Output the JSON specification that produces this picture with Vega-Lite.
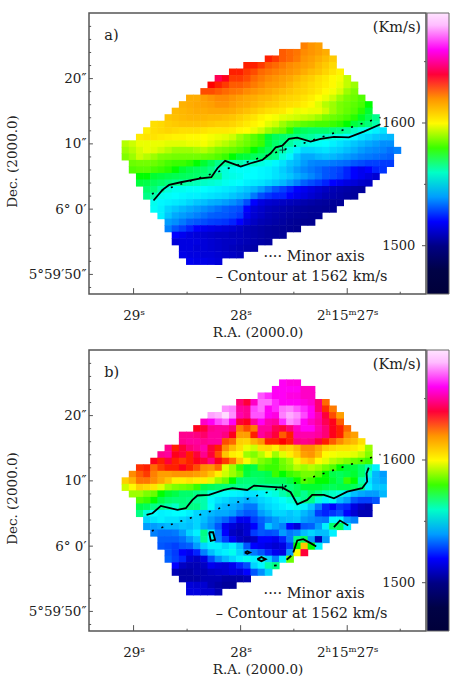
{"$schema":"https://vega.github.io/schema/vega-lite/v6.json","background":"white","padding":{"left":4,"top":12,"right":0,"bottom":0},"config":{"font":"DejaVu Serif","axis":{"labelFont":"DejaVu Serif","titleFont":"DejaVu Serif","labelColor":"#222","titleColor":"#222","labelFontSize":13.5,"titleFontSize":13.5,"titleFontWeight":"normal","grid":false,"domain":false,"ticks":false},"text":{"font":"DejaVu Serif","fontSize":14.5,"color":"#222"}},"bounds":"flush","spacing":56,"resolve":{"scale":{"color":"independent"}},
"datasets":{
"ticks":[{"c":-5.1,"c2":-4.55,"r":5,"r2":5},{"c":-5.1,"c2":-4.55,"r":15,"r2":15},{"c":-5.1,"c2":-4.55,"r":25,"r2":25},{"c":-5.1,"c2":-4.55,"r":35,"r2":35},{"c":-5.1,"c2":-4.8,"r":-3,"r2":-3},{"c":-5.1,"c2":-4.8,"r":-1,"r2":-1},{"c":-5.1,"c2":-4.8,"r":1,"r2":1},{"c":-5.1,"c2":-4.8,"r":3,"r2":3},{"c":-5.1,"c2":-4.8,"r":7,"r2":7},{"c":-5.1,"c2":-4.8,"r":9,"r2":9},{"c":-5.1,"c2":-4.8,"r":11,"r2":11},{"c":-5.1,"c2":-4.8,"r":13,"r2":13},{"c":-5.1,"c2":-4.8,"r":17,"r2":17},{"c":-5.1,"c2":-4.8,"r":19,"r2":19},{"c":-5.1,"c2":-4.8,"r":21,"r2":21},{"c":-5.1,"c2":-4.8,"r":23,"r2":23},{"c":-5.1,"c2":-4.8,"r":27,"r2":27},{"c":-5.1,"c2":-4.8,"r":29,"r2":29},{"c":-5.1,"c2":-4.8,"r":31,"r2":31},{"c":-5.1,"c2":-4.8,"r":33,"r2":33},{"c":-5.1,"c2":-4.8,"r":37,"r2":37},{"c":1.13,"c2":1.13,"r":38,"r2":37.1},{"c":16.09,"c2":16.09,"r":38,"r2":37.1},{"c":30.99,"c2":30.99,"r":38,"r2":37.1},{"c":8.61,"c2":8.61,"r":38,"r2":37.65},{"c":23.53,"c2":23.53,"r":38,"r2":37.65},{"c":38.4,"c2":38.4,"r":38,"r2":37.65},{"c":41.44,"c2":42,"r":11.8,"r2":11.8},{"c":41.44,"c2":42,"r":30.6,"r2":30.6},{"c":41.72,"c2":42,"r":2.4,"r2":2.4},{"c":41.72,"c2":42,"r":21.2,"r2":21.2}],
"axis":[{"c":3.69,"r":22.66},{"c":35.64,"r":10.95}],
"cross":[{"c":21.95,"r":15.95}],
"unit":[{"c":41.3,"r":-2.75,"t":"(Km/s)"}],
"cbar":[{"c":40.5,"r":11.8,"t":"1600"},{"c":40.5,"r":30.6,"t":"1500"}],
"notes":[{"c":19.3,"r":32.3,"t":"···· Minor axis"},{"c":12.6,"r":35.4,"t":"– Contour at 1562 km/s"}],
"contourA":[{"c":3.92,"r":23.68,"i":1},{"c":5.17,"r":22.05,"i":2},{"c":6.1,"r":21.29,"i":3},{"c":7.73,"r":20.88,"i":4},{"c":10.52,"r":20.27,"i":5},{"c":12,"r":20.11,"i":6},{"c":12.85,"r":18.73,"i":7},{"c":13.92,"r":17.61,"i":8},{"c":16.1,"r":18.48,"i":9},{"c":17.5,"r":17.97,"i":10},{"c":19.13,"r":17.46,"i":11},{"c":20.29,"r":16.44,"i":12},{"c":21,"r":15.52,"i":13},{"c":21.92,"r":15.27,"i":14},{"c":22.85,"r":14.24,"i":15},{"c":24,"r":14.04,"i":16},{"c":25.87,"r":14.65,"i":17},{"c":27.27,"r":14.24,"i":18},{"c":29.13,"r":13.94,"i":19},{"c":31.22,"r":13.99,"i":20},{"c":33.3,"r":13.12,"i":21},{"c":35.64,"r":12,"i":22}],
"contourB":[{"g":1,"i":1,"c":2.94,"r":20.2},{"g":1,"i":2,"c":3.78,"r":19.96},{"g":1,"i":3,"c":4.94,"r":18.84},{"g":1,"i":4,"c":7.27,"r":19.45},{"g":1,"i":5,"c":8.43,"r":19.19},{"g":1,"i":6,"c":9.36,"r":17.91},{"g":1,"i":7,"c":10.06,"r":17.24},{"g":1,"i":8,"c":11.69,"r":17.14},{"g":1,"i":9,"c":13.78,"r":16.37},{"g":1,"i":10,"c":14.94,"r":16.11},{"g":1,"i":11,"c":17.03,"r":16.39},{"g":1,"i":12,"c":17.97,"r":15.72},{"g":1,"i":13,"c":19.83,"r":15.88},{"g":1,"i":14,"c":21.92,"r":16.03},{"g":1,"i":15,"c":23.08,"r":16.74},{"g":1,"i":16,"c":24.01,"r":18.58},{"g":1,"i":17,"c":25.4,"r":17.92},{"g":1,"i":18,"c":26.1,"r":17.15},{"g":1,"i":19,"c":27.73,"r":17.15},{"g":1,"i":20,"c":29.13,"r":17.66},{"g":1,"i":21,"c":30.99,"r":16.64},{"g":1,"i":22,"c":33.08,"r":16.13},{"g":1,"i":23,"c":33.78,"r":15.11},{"g":1,"i":24,"c":33.69,"r":13.84},{"g":1,"i":25,"c":34,"r":12.97},{"g":2,"i":1,"c":29.13,"r":22.1},{"g":2,"i":2,"c":29.97,"r":21.08},{"g":2,"i":3,"c":31.13,"r":21.85},{"g":3,"i":1,"c":11.69,"r":22.87},{"g":3,"i":2,"c":12.24,"r":22.87},{"g":3,"i":3,"c":12.52,"r":24.04},{"g":3,"i":4,"c":11.92,"r":24.19},{"g":3,"i":5,"c":11.69,"r":22.87},{"g":4,"i":1,"c":16.66,"r":25.97},{"g":4,"i":2,"c":17.03,"r":25.78},{"g":4,"i":3,"c":17.41,"r":25.97},{"g":4,"i":4,"c":17.03,"r":26.18},{"g":4,"i":5,"c":16.66,"r":25.97},{"g":5,"i":1,"c":18.43,"r":26.99},{"g":5,"i":2,"c":19,"r":26.68},{"g":5,"i":3,"c":19.59,"r":26.99},{"g":5,"i":4,"c":19,"r":27.3},{"g":5,"i":5,"c":18.43,"r":26.99},{"g":6,"i":1,"c":20.76,"r":27.99},{"g":6,"i":2,"c":21.13,"r":27.94},{"g":7,"i":1,"c":22.52,"r":27.09},{"g":7,"i":2,"c":23.17,"r":26.48},{"g":8,"i":1,"c":23.45,"r":25.97},{"g":8,"i":2,"c":24.01,"r":24.13},{"g":8,"i":3,"c":24.85,"r":23.93},{"g":8,"i":4,"c":25.87,"r":24.54},{"g":8,"i":5,"c":26.66,"r":25.05}],
"velA":[
{"c":25,"r":0,"v":1624},{"c":26,"r":0,"v":1620},{"c":27,"r":0,"v":1618},
{"c":22,"r":1,"v":1630},{"c":23,"r":1,"v":1628},{"c":24,"r":1,"v":1626},{"c":25,"r":1,"v":1622},{"c":26,"r":1,"v":1620},{"c":27,"r":1,"v":1618},{"c":28,"r":1,"v":1615},
{"c":20,"r":2,"v":1636},{"c":21,"r":2,"v":1634},{"c":22,"r":2,"v":1630},{"c":23,"r":2,"v":1628},{"c":24,"r":2,"v":1625},{"c":25,"r":2,"v":1620},{"c":26,"r":2,"v":1618},{"c":27,"r":2,"v":1615},{"c":28,"r":2,"v":1612},{"c":29,"r":2,"v":1609},
{"c":17,"r":3,"v":1636},{"c":18,"r":3,"v":1636},{"c":19,"r":3,"v":1634},{"c":20,"r":3,"v":1630},{"c":21,"r":3,"v":1628},{"c":22,"r":3,"v":1625},{"c":23,"r":3,"v":1622},{"c":24,"r":3,"v":1620},{"c":25,"r":3,"v":1618},{"c":26,"r":3,"v":1616},{"c":27,"r":3,"v":1612},{"c":28,"r":3,"v":1609},{"c":29,"r":3,"v":1606},
{"c":15,"r":4,"v":1636},{"c":16,"r":4,"v":1636},{"c":17,"r":4,"v":1634},{"c":18,"r":4,"v":1632},{"c":19,"r":4,"v":1628},{"c":20,"r":4,"v":1626},{"c":21,"r":4,"v":1624},{"c":22,"r":4,"v":1622},{"c":23,"r":4,"v":1620},{"c":24,"r":4,"v":1618},{"c":25,"r":4,"v":1615},{"c":26,"r":4,"v":1612},{"c":27,"r":4,"v":1610},{"c":28,"r":4,"v":1607},{"c":29,"r":4,"v":1604},{"c":30,"r":4,"v":1601},
{"c":13,"r":5,"v":1642},{"c":14,"r":5,"v":1638},{"c":15,"r":5,"v":1634},{"c":16,"r":5,"v":1634},{"c":17,"r":5,"v":1632},{"c":18,"r":5,"v":1628},{"c":19,"r":5,"v":1625},{"c":20,"r":5,"v":1622},{"c":21,"r":5,"v":1620},{"c":22,"r":5,"v":1618},{"c":23,"r":5,"v":1616},{"c":24,"r":5,"v":1613},{"c":25,"r":5,"v":1610},{"c":26,"r":5,"v":1608},{"c":27,"r":5,"v":1605},{"c":28,"r":5,"v":1603},{"c":29,"r":5,"v":1600},{"c":30,"r":5,"v":1598},{"c":31,"r":5,"v":1593},
{"c":12,"r":6,"v":1637},{"c":13,"r":6,"v":1636},{"c":14,"r":6,"v":1634},{"c":15,"r":6,"v":1630},{"c":16,"r":6,"v":1630},{"c":17,"r":6,"v":1628},{"c":18,"r":6,"v":1625},{"c":19,"r":6,"v":1622},{"c":20,"r":6,"v":1619},{"c":21,"r":6,"v":1618},{"c":22,"r":6,"v":1616},{"c":23,"r":6,"v":1613},{"c":24,"r":6,"v":1610},{"c":25,"r":6,"v":1608},{"c":26,"r":6,"v":1606},{"c":27,"r":6,"v":1604},{"c":28,"r":6,"v":1602},{"c":29,"r":6,"v":1600},{"c":30,"r":6,"v":1597},{"c":31,"r":6,"v":1593},{"c":32,"r":6,"v":1590},
{"c":11,"r":7,"v":1632},{"c":12,"r":7,"v":1632},{"c":13,"r":7,"v":1630},{"c":14,"r":7,"v":1628},{"c":15,"r":7,"v":1626},{"c":16,"r":7,"v":1625},{"c":17,"r":7,"v":1622},{"c":18,"r":7,"v":1620},{"c":19,"r":7,"v":1618},{"c":20,"r":7,"v":1616},{"c":21,"r":7,"v":1614},{"c":22,"r":7,"v":1612},{"c":23,"r":7,"v":1610},{"c":24,"r":7,"v":1608},{"c":25,"r":7,"v":1607},{"c":26,"r":7,"v":1605},{"c":27,"r":7,"v":1603},{"c":28,"r":7,"v":1600},{"c":29,"r":7,"v":1598},{"c":30,"r":7,"v":1595},{"c":31,"r":7,"v":1590},{"c":32,"r":7,"v":1587},
{"c":9,"r":8,"v":1615},{"c":10,"r":8,"v":1615},{"c":11,"r":8,"v":1618},{"c":12,"r":8,"v":1620},{"c":13,"r":8,"v":1622},{"c":14,"r":8,"v":1622},{"c":15,"r":8,"v":1620},{"c":16,"r":8,"v":1618},{"c":17,"r":8,"v":1616},{"c":18,"r":8,"v":1615},{"c":19,"r":8,"v":1613},{"c":20,"r":8,"v":1612},{"c":21,"r":8,"v":1610},{"c":22,"r":8,"v":1608},{"c":23,"r":8,"v":1607},{"c":24,"r":8,"v":1606},{"c":25,"r":8,"v":1604},{"c":26,"r":8,"v":1602},{"c":27,"r":8,"v":1599},{"c":28,"r":8,"v":1597},{"c":29,"r":8,"v":1594},{"c":30,"r":8,"v":1590},{"c":31,"r":8,"v":1587},{"c":32,"r":8,"v":1585},{"c":33,"r":8,"v":1582},
{"c":8,"r":9,"v":1614},{"c":9,"r":9,"v":1615},{"c":10,"r":9,"v":1616},{"c":11,"r":9,"v":1617},{"c":12,"r":9,"v":1618},{"c":13,"r":9,"v":1620},{"c":14,"r":9,"v":1620},{"c":15,"r":9,"v":1618},{"c":16,"r":9,"v":1616},{"c":17,"r":9,"v":1615},{"c":18,"r":9,"v":1613},{"c":19,"r":9,"v":1611},{"c":20,"r":9,"v":1609},{"c":21,"r":9,"v":1608},{"c":22,"r":9,"v":1606},{"c":23,"r":9,"v":1605},{"c":24,"r":9,"v":1604},{"c":25,"r":9,"v":1602},{"c":26,"r":9,"v":1600},{"c":27,"r":9,"v":1596},{"c":28,"r":9,"v":1592},{"c":29,"r":9,"v":1590},{"c":30,"r":9,"v":1587},{"c":31,"r":9,"v":1585},{"c":32,"r":9,"v":1583},{"c":33,"r":9,"v":1581},{"c":34,"r":9,"v":1578},
{"c":7,"r":10,"v":1612},{"c":8,"r":10,"v":1613},{"c":9,"r":10,"v":1614},{"c":10,"r":10,"v":1615},{"c":11,"r":10,"v":1615},{"c":12,"r":10,"v":1616},{"c":13,"r":10,"v":1616},{"c":14,"r":10,"v":1616},{"c":15,"r":10,"v":1615},{"c":16,"r":10,"v":1613},{"c":17,"r":10,"v":1611},{"c":18,"r":10,"v":1609},{"c":19,"r":10,"v":1607},{"c":20,"r":10,"v":1605},{"c":21,"r":10,"v":1604},{"c":22,"r":10,"v":1603},{"c":23,"r":10,"v":1600},{"c":24,"r":10,"v":1597},{"c":25,"r":10,"v":1598},{"c":26,"r":10,"v":1597},{"c":27,"r":10,"v":1597},{"c":28,"r":10,"v":1594},{"c":29,"r":10,"v":1590},{"c":30,"r":10,"v":1587},{"c":31,"r":10,"v":1584},{"c":32,"r":10,"v":1582},{"c":33,"r":10,"v":1579},{"c":34,"r":10,"v":1576},
{"c":6,"r":11,"v":1610},{"c":7,"r":11,"v":1611},{"c":8,"r":11,"v":1612},{"c":9,"r":11,"v":1613},{"c":10,"r":11,"v":1613},{"c":11,"r":11,"v":1613},{"c":12,"r":11,"v":1612},{"c":13,"r":11,"v":1612},{"c":14,"r":11,"v":1611},{"c":15,"r":11,"v":1610},{"c":16,"r":11,"v":1608},{"c":17,"r":11,"v":1606},{"c":18,"r":11,"v":1604},{"c":19,"r":11,"v":1601},{"c":20,"r":11,"v":1599},{"c":21,"r":11,"v":1598},{"c":22,"r":11,"v":1596},{"c":23,"r":11,"v":1595},{"c":24,"r":11,"v":1594},{"c":25,"r":11,"v":1593},{"c":26,"r":11,"v":1592},{"c":27,"r":11,"v":1590},{"c":28,"r":11,"v":1587},{"c":29,"r":11,"v":1585},{"c":30,"r":11,"v":1583},{"c":31,"r":11,"v":1581},{"c":32,"r":11,"v":1579},{"c":33,"r":11,"v":1577},{"c":34,"r":11,"v":1573},{"c":35,"r":11,"v":1565},
{"c":4,"r":12,"v":1605},{"c":5,"r":12,"v":1606},{"c":6,"r":12,"v":1608},{"c":7,"r":12,"v":1609},{"c":8,"r":12,"v":1610},{"c":9,"r":12,"v":1610},{"c":10,"r":12,"v":1610},{"c":11,"r":12,"v":1610},{"c":12,"r":12,"v":1609},{"c":13,"r":12,"v":1608},{"c":14,"r":12,"v":1608},{"c":15,"r":12,"v":1607},{"c":16,"r":12,"v":1605},{"c":17,"r":12,"v":1603},{"c":18,"r":12,"v":1601},{"c":19,"r":12,"v":1599},{"c":20,"r":12,"v":1596},{"c":21,"r":12,"v":1594},{"c":22,"r":12,"v":1590},{"c":23,"r":12,"v":1587},{"c":24,"r":12,"v":1585},{"c":25,"r":12,"v":1583},{"c":26,"r":12,"v":1582},{"c":27,"r":12,"v":1581},{"c":28,"r":12,"v":1581},{"c":29,"r":12,"v":1580},{"c":30,"r":12,"v":1579},{"c":31,"r":12,"v":1578},{"c":32,"r":12,"v":1575},{"c":33,"r":12,"v":1572},{"c":34,"r":12,"v":1568},{"c":35,"r":12,"v":1562},
{"c":3,"r":13,"v":1602},{"c":4,"r":13,"v":1605},{"c":5,"r":13,"v":1606},{"c":6,"r":13,"v":1607},{"c":7,"r":13,"v":1606},{"c":8,"r":13,"v":1605},{"c":9,"r":13,"v":1605},{"c":10,"r":13,"v":1605},{"c":11,"r":13,"v":1604},{"c":12,"r":13,"v":1603},{"c":13,"r":13,"v":1603},{"c":14,"r":13,"v":1603},{"c":15,"r":13,"v":1602},{"c":16,"r":13,"v":1600},{"c":17,"r":13,"v":1599},{"c":18,"r":13,"v":1597},{"c":19,"r":13,"v":1594},{"c":20,"r":13,"v":1590},{"c":21,"r":13,"v":1587},{"c":22,"r":13,"v":1584},{"c":23,"r":13,"v":1579},{"c":24,"r":13,"v":1574},{"c":25,"r":13,"v":1572},{"c":26,"r":13,"v":1570},{"c":27,"r":13,"v":1570},{"c":28,"r":13,"v":1570},{"c":29,"r":13,"v":1568},{"c":30,"r":13,"v":1566},{"c":31,"r":13,"v":1563},{"c":32,"r":13,"v":1560},{"c":33,"r":13,"v":1557},{"c":34,"r":13,"v":1555},{"c":35,"r":13,"v":1552},{"c":36,"r":13,"v":1550},
{"c":2,"r":14,"v":1603},{"c":3,"r":14,"v":1604},{"c":4,"r":14,"v":1604},{"c":5,"r":14,"v":1603},{"c":6,"r":14,"v":1602},{"c":7,"r":14,"v":1601},{"c":8,"r":14,"v":1601},{"c":9,"r":14,"v":1600},{"c":10,"r":14,"v":1600},{"c":11,"r":14,"v":1599},{"c":12,"r":14,"v":1598},{"c":13,"r":14,"v":1597},{"c":14,"r":14,"v":1596},{"c":15,"r":14,"v":1594},{"c":16,"r":14,"v":1590},{"c":17,"r":14,"v":1587},{"c":18,"r":14,"v":1583},{"c":19,"r":14,"v":1580},{"c":20,"r":14,"v":1576},{"c":21,"r":14,"v":1572},{"c":22,"r":14,"v":1570},{"c":23,"r":14,"v":1568},{"c":24,"r":14,"v":1566},{"c":25,"r":14,"v":1564},{"c":26,"r":14,"v":1563},{"c":27,"r":14,"v":1561},{"c":28,"r":14,"v":1560},{"c":29,"r":14,"v":1558},{"c":30,"r":14,"v":1557},{"c":31,"r":14,"v":1555},{"c":32,"r":14,"v":1553},{"c":33,"r":14,"v":1550},{"c":34,"r":14,"v":1548},{"c":35,"r":14,"v":1546},{"c":36,"r":14,"v":1545},{"c":37,"r":14,"v":1544},
{"c":0,"r":15,"v":1592},{"c":1,"r":15,"v":1594},{"c":2,"r":15,"v":1597},{"c":3,"r":15,"v":1597},{"c":4,"r":15,"v":1597},{"c":5,"r":15,"v":1597},{"c":6,"r":15,"v":1596},{"c":7,"r":15,"v":1596},{"c":8,"r":15,"v":1596},{"c":9,"r":15,"v":1597},{"c":10,"r":15,"v":1597},{"c":11,"r":15,"v":1598},{"c":12,"r":15,"v":1596},{"c":13,"r":15,"v":1594},{"c":14,"r":15,"v":1592},{"c":15,"r":15,"v":1590},{"c":16,"r":15,"v":1588},{"c":17,"r":15,"v":1585},{"c":18,"r":15,"v":1582},{"c":19,"r":15,"v":1580},{"c":20,"r":15,"v":1575},{"c":21,"r":15,"v":1570},{"c":22,"r":15,"v":1566},{"c":23,"r":15,"v":1563},{"c":24,"r":15,"v":1560},{"c":25,"r":15,"v":1558},{"c":26,"r":15,"v":1556},{"c":27,"r":15,"v":1555},{"c":28,"r":15,"v":1554},{"c":29,"r":15,"v":1552},{"c":30,"r":15,"v":1550},{"c":31,"r":15,"v":1548},{"c":32,"r":15,"v":1546},{"c":33,"r":15,"v":1544},{"c":34,"r":15,"v":1542},{"c":35,"r":15,"v":1540},{"c":36,"r":15,"v":1538},{"c":37,"r":15,"v":1538},
{"c":0,"r":16,"v":1590},{"c":1,"r":16,"v":1592},{"c":2,"r":16,"v":1595},{"c":3,"r":16,"v":1597},{"c":4,"r":16,"v":1596},{"c":5,"r":16,"v":1594},{"c":6,"r":16,"v":1592},{"c":7,"r":16,"v":1590},{"c":8,"r":16,"v":1590},{"c":9,"r":16,"v":1590},{"c":10,"r":16,"v":1591},{"c":11,"r":16,"v":1592},{"c":12,"r":16,"v":1590},{"c":13,"r":16,"v":1588},{"c":14,"r":16,"v":1586},{"c":15,"r":16,"v":1584},{"c":16,"r":16,"v":1582},{"c":17,"r":16,"v":1580},{"c":18,"r":16,"v":1578},{"c":19,"r":16,"v":1576},{"c":20,"r":16,"v":1572},{"c":21,"r":16,"v":1568},{"c":22,"r":16,"v":1562},{"c":23,"r":16,"v":1558},{"c":24,"r":16,"v":1552},{"c":25,"r":16,"v":1548},{"c":26,"r":16,"v":1548},{"c":27,"r":16,"v":1549},{"c":28,"r":16,"v":1550},{"c":29,"r":16,"v":1548},{"c":30,"r":16,"v":1547},{"c":31,"r":16,"v":1545},{"c":32,"r":16,"v":1543},{"c":33,"r":16,"v":1540},{"c":34,"r":16,"v":1538},{"c":35,"r":16,"v":1537},{"c":36,"r":16,"v":1536},{"c":37,"r":16,"v":1534},{"c":38,"r":16,"v":1536},
{"c":0,"r":17,"v":1588},{"c":1,"r":17,"v":1590},{"c":2,"r":17,"v":1594},{"c":3,"r":17,"v":1592},{"c":4,"r":17,"v":1590},{"c":5,"r":17,"v":1588},{"c":6,"r":17,"v":1587},{"c":7,"r":17,"v":1586},{"c":8,"r":17,"v":1586},{"c":9,"r":17,"v":1586},{"c":10,"r":17,"v":1586},{"c":11,"r":17,"v":1585},{"c":12,"r":17,"v":1584},{"c":13,"r":17,"v":1582},{"c":14,"r":17,"v":1580},{"c":15,"r":17,"v":1578},{"c":16,"r":17,"v":1576},{"c":17,"r":17,"v":1575},{"c":18,"r":17,"v":1572},{"c":19,"r":17,"v":1570},{"c":20,"r":17,"v":1568},{"c":21,"r":17,"v":1565},{"c":22,"r":17,"v":1558},{"c":23,"r":17,"v":1553},{"c":24,"r":17,"v":1546},{"c":25,"r":17,"v":1542},{"c":26,"r":17,"v":1542},{"c":27,"r":17,"v":1544},{"c":28,"r":17,"v":1545},{"c":29,"r":17,"v":1544},{"c":30,"r":17,"v":1542},{"c":31,"r":17,"v":1540},{"c":32,"r":17,"v":1538},{"c":33,"r":17,"v":1536},{"c":34,"r":17,"v":1535},{"c":35,"r":17,"v":1534},{"c":36,"r":17,"v":1533},{"c":37,"r":17,"v":1532},
{"c":1,"r":18,"v":1585},{"c":2,"r":18,"v":1586},{"c":3,"r":18,"v":1586},{"c":4,"r":18,"v":1585},{"c":5,"r":18,"v":1583},{"c":6,"r":18,"v":1581},{"c":7,"r":18,"v":1580},{"c":8,"r":18,"v":1580},{"c":9,"r":18,"v":1579},{"c":10,"r":18,"v":1578},{"c":11,"r":18,"v":1576},{"c":12,"r":18,"v":1572},{"c":13,"r":18,"v":1565},{"c":14,"r":18,"v":1563},{"c":15,"r":18,"v":1562},{"c":16,"r":18,"v":1562},{"c":17,"r":18,"v":1560},{"c":18,"r":18,"v":1560},{"c":19,"r":18,"v":1558},{"c":20,"r":18,"v":1556},{"c":21,"r":18,"v":1553},{"c":22,"r":18,"v":1550},{"c":23,"r":18,"v":1546},{"c":24,"r":18,"v":1544},{"c":25,"r":18,"v":1540},{"c":26,"r":18,"v":1537},{"c":27,"r":18,"v":1536},{"c":28,"r":18,"v":1536},{"c":29,"r":18,"v":1535},{"c":30,"r":18,"v":1534},{"c":31,"r":18,"v":1533},{"c":32,"r":18,"v":1530},{"c":33,"r":18,"v":1528},{"c":34,"r":18,"v":1526},{"c":35,"r":18,"v":1526},{"c":36,"r":18,"v":1525},{"c":37,"r":18,"v":1525},
{"c":1,"r":19,"v":1582},{"c":2,"r":19,"v":1583},{"c":3,"r":19,"v":1583},{"c":4,"r":19,"v":1581},{"c":5,"r":19,"v":1580},{"c":6,"r":19,"v":1579},{"c":7,"r":19,"v":1578},{"c":8,"r":19,"v":1576},{"c":9,"r":19,"v":1574},{"c":10,"r":19,"v":1572},{"c":11,"r":19,"v":1570},{"c":12,"r":19,"v":1566},{"c":13,"r":19,"v":1560},{"c":14,"r":19,"v":1558},{"c":15,"r":19,"v":1556},{"c":16,"r":19,"v":1555},{"c":17,"r":19,"v":1555},{"c":18,"r":19,"v":1554},{"c":19,"r":19,"v":1553},{"c":20,"r":19,"v":1552},{"c":21,"r":19,"v":1550},{"c":22,"r":19,"v":1547},{"c":23,"r":19,"v":1544},{"c":24,"r":19,"v":1540},{"c":25,"r":19,"v":1537},{"c":26,"r":19,"v":1535},{"c":27,"r":19,"v":1533},{"c":28,"r":19,"v":1530},{"c":29,"r":19,"v":1528},{"c":30,"r":19,"v":1526},{"c":31,"r":19,"v":1522},{"c":32,"r":19,"v":1520},{"c":33,"r":19,"v":1518},{"c":34,"r":19,"v":1520},{"c":35,"r":19,"v":1522},{"c":36,"r":19,"v":1524},
{"c":2,"r":20,"v":1578},{"c":3,"r":20,"v":1578},{"c":4,"r":20,"v":1576},{"c":5,"r":20,"v":1575},{"c":6,"r":20,"v":1574},{"c":7,"r":20,"v":1573},{"c":8,"r":20,"v":1572},{"c":9,"r":20,"v":1571},{"c":10,"r":20,"v":1570},{"c":11,"r":20,"v":1568},{"c":12,"r":20,"v":1566},{"c":13,"r":20,"v":1564},{"c":14,"r":20,"v":1558},{"c":15,"r":20,"v":1557},{"c":16,"r":20,"v":1556},{"c":17,"r":20,"v":1554},{"c":18,"r":20,"v":1554},{"c":19,"r":20,"v":1553},{"c":20,"r":20,"v":1552},{"c":21,"r":20,"v":1550},{"c":22,"r":20,"v":1548},{"c":23,"r":20,"v":1546},{"c":24,"r":20,"v":1543},{"c":25,"r":20,"v":1540},{"c":26,"r":20,"v":1537},{"c":27,"r":20,"v":1534},{"c":28,"r":20,"v":1530},{"c":29,"r":20,"v":1528},{"c":30,"r":20,"v":1525},{"c":31,"r":20,"v":1522},{"c":32,"r":20,"v":1520},{"c":33,"r":20,"v":1518},{"c":34,"r":20,"v":1516},{"c":35,"r":20,"v":1514},
{"c":2,"r":21,"v":1575},{"c":3,"r":21,"v":1574},{"c":4,"r":21,"v":1572},{"c":5,"r":21,"v":1570},{"c":6,"r":21,"v":1567},{"c":7,"r":21,"v":1564},{"c":8,"r":21,"v":1563},{"c":9,"r":21,"v":1562},{"c":10,"r":21,"v":1561},{"c":11,"r":21,"v":1560},{"c":12,"r":21,"v":1559},{"c":13,"r":21,"v":1558},{"c":14,"r":21,"v":1556},{"c":15,"r":21,"v":1555},{"c":16,"r":21,"v":1554},{"c":17,"r":21,"v":1552},{"c":18,"r":21,"v":1551},{"c":19,"r":21,"v":1550},{"c":20,"r":21,"v":1548},{"c":21,"r":21,"v":1546},{"c":22,"r":21,"v":1544},{"c":23,"r":21,"v":1540},{"c":24,"r":21,"v":1536},{"c":25,"r":21,"v":1532},{"c":26,"r":21,"v":1528},{"c":27,"r":21,"v":1525},{"c":28,"r":21,"v":1522},{"c":29,"r":21,"v":1520},{"c":30,"r":21,"v":1518},{"c":31,"r":21,"v":1516},{"c":32,"r":21,"v":1515},{"c":33,"r":21,"v":1513},{"c":34,"r":21,"v":1512},
{"c":3,"r":22,"v":1570},{"c":4,"r":22,"v":1568},{"c":5,"r":22,"v":1562},{"c":6,"r":22,"v":1558},{"c":7,"r":22,"v":1556},{"c":8,"r":22,"v":1556},{"c":9,"r":22,"v":1555},{"c":10,"r":22,"v":1555},{"c":11,"r":22,"v":1554},{"c":12,"r":22,"v":1553},{"c":13,"r":22,"v":1552},{"c":14,"r":22,"v":1551},{"c":15,"r":22,"v":1550},{"c":16,"r":22,"v":1548},{"c":17,"r":22,"v":1546},{"c":18,"r":22,"v":1544},{"c":19,"r":22,"v":1540},{"c":20,"r":22,"v":1535},{"c":21,"r":22,"v":1530},{"c":22,"r":22,"v":1526},{"c":23,"r":22,"v":1522},{"c":24,"r":22,"v":1520},{"c":25,"r":22,"v":1518},{"c":26,"r":22,"v":1516},{"c":27,"r":22,"v":1514},{"c":28,"r":22,"v":1512},{"c":29,"r":22,"v":1510},{"c":30,"r":22,"v":1509},{"c":31,"r":22,"v":1508},{"c":32,"r":22,"v":1507},{"c":33,"r":22,"v":1506},
{"c":3,"r":23,"v":1566},{"c":4,"r":23,"v":1562},{"c":5,"r":23,"v":1556},{"c":6,"r":23,"v":1555},{"c":7,"r":23,"v":1554},{"c":8,"r":23,"v":1553},{"c":9,"r":23,"v":1552},{"c":10,"r":23,"v":1552},{"c":11,"r":23,"v":1551},{"c":12,"r":23,"v":1550},{"c":13,"r":23,"v":1549},{"c":14,"r":23,"v":1548},{"c":15,"r":23,"v":1546},{"c":16,"r":23,"v":1544},{"c":17,"r":23,"v":1542},{"c":18,"r":23,"v":1535},{"c":19,"r":23,"v":1528},{"c":20,"r":23,"v":1524},{"c":21,"r":23,"v":1522},{"c":22,"r":23,"v":1522},{"c":23,"r":23,"v":1520},{"c":24,"r":23,"v":1518},{"c":25,"r":23,"v":1516},{"c":26,"r":23,"v":1514},{"c":27,"r":23,"v":1512},{"c":28,"r":23,"v":1510},{"c":29,"r":23,"v":1509},{"c":30,"r":23,"v":1508},{"c":31,"r":23,"v":1507},{"c":32,"r":23,"v":1506},
{"c":4,"r":24,"v":1556},{"c":5,"r":24,"v":1553},{"c":6,"r":24,"v":1552},{"c":7,"r":24,"v":1551},{"c":8,"r":24,"v":1550},{"c":9,"r":24,"v":1548},{"c":10,"r":24,"v":1546},{"c":11,"r":24,"v":1545},{"c":12,"r":24,"v":1543},{"c":13,"r":24,"v":1542},{"c":14,"r":24,"v":1540},{"c":15,"r":24,"v":1538},{"c":16,"r":24,"v":1535},{"c":17,"r":24,"v":1528},{"c":18,"r":24,"v":1520},{"c":19,"r":24,"v":1516},{"c":20,"r":24,"v":1514},{"c":21,"r":24,"v":1513},{"c":22,"r":24,"v":1512},{"c":23,"r":24,"v":1511},{"c":24,"r":24,"v":1510},{"c":25,"r":24,"v":1509},{"c":26,"r":24,"v":1508},{"c":27,"r":24,"v":1507},{"c":28,"r":24,"v":1506},{"c":29,"r":24,"v":1505},{"c":30,"r":24,"v":1505},
{"c":4,"r":25,"v":1555},{"c":5,"r":25,"v":1552},{"c":6,"r":25,"v":1548},{"c":7,"r":25,"v":1546},{"c":8,"r":25,"v":1544},{"c":9,"r":25,"v":1542},{"c":10,"r":25,"v":1540},{"c":11,"r":25,"v":1538},{"c":12,"r":25,"v":1536},{"c":13,"r":25,"v":1534},{"c":14,"r":25,"v":1532},{"c":15,"r":25,"v":1530},{"c":16,"r":25,"v":1528},{"c":17,"r":25,"v":1520},{"c":18,"r":25,"v":1515},{"c":19,"r":25,"v":1513},{"c":20,"r":25,"v":1511},{"c":21,"r":25,"v":1510},{"c":22,"r":25,"v":1509},{"c":23,"r":25,"v":1508},{"c":24,"r":25,"v":1507},{"c":25,"r":25,"v":1506},{"c":26,"r":25,"v":1505},{"c":27,"r":25,"v":1505},{"c":28,"r":25,"v":1504},{"c":29,"r":25,"v":1504},
{"c":5,"r":26,"v":1552},{"c":6,"r":26,"v":1546},{"c":7,"r":26,"v":1542},{"c":8,"r":26,"v":1540},{"c":9,"r":26,"v":1538},{"c":10,"r":26,"v":1536},{"c":11,"r":26,"v":1534},{"c":12,"r":26,"v":1532},{"c":13,"r":26,"v":1531},{"c":14,"r":26,"v":1530},{"c":15,"r":26,"v":1528},{"c":16,"r":26,"v":1525},{"c":17,"r":26,"v":1518},{"c":18,"r":26,"v":1514},{"c":19,"r":26,"v":1512},{"c":20,"r":26,"v":1510},{"c":21,"r":26,"v":1509},{"c":22,"r":26,"v":1508},{"c":23,"r":26,"v":1507},{"c":24,"r":26,"v":1506},{"c":25,"r":26,"v":1505},{"c":26,"r":26,"v":1504},{"c":27,"r":26,"v":1504},
{"c":6,"r":27,"v":1540},{"c":7,"r":27,"v":1538},{"c":8,"r":27,"v":1535},{"c":9,"r":27,"v":1532},{"c":10,"r":27,"v":1530},{"c":11,"r":27,"v":1528},{"c":12,"r":27,"v":1526},{"c":13,"r":27,"v":1525},{"c":14,"r":27,"v":1524},{"c":15,"r":27,"v":1522},{"c":16,"r":27,"v":1520},{"c":17,"r":27,"v":1515},{"c":18,"r":27,"v":1512},{"c":19,"r":27,"v":1510},{"c":20,"r":27,"v":1509},{"c":21,"r":27,"v":1508},{"c":22,"r":27,"v":1507},{"c":23,"r":27,"v":1505},{"c":24,"r":27,"v":1504},{"c":25,"r":27,"v":1503},{"c":26,"r":27,"v":1503},
{"c":6,"r":28,"v":1536},{"c":7,"r":28,"v":1530},{"c":8,"r":28,"v":1526},{"c":9,"r":28,"v":1522},{"c":10,"r":28,"v":1520},{"c":11,"r":28,"v":1518},{"c":12,"r":28,"v":1517},{"c":13,"r":28,"v":1516},{"c":14,"r":28,"v":1515},{"c":15,"r":28,"v":1514},{"c":16,"r":28,"v":1512},{"c":17,"r":28,"v":1510},{"c":18,"r":28,"v":1509},{"c":19,"r":28,"v":1508},{"c":20,"r":28,"v":1507},{"c":21,"r":28,"v":1506},{"c":22,"r":28,"v":1505},{"c":23,"r":28,"v":1504},{"c":24,"r":28,"v":1503},
{"c":7,"r":29,"v":1520},{"c":8,"r":29,"v":1518},{"c":9,"r":29,"v":1516},{"c":10,"r":29,"v":1515},{"c":11,"r":29,"v":1514},{"c":12,"r":29,"v":1513},{"c":13,"r":29,"v":1512},{"c":14,"r":29,"v":1512},{"c":15,"r":29,"v":1511},{"c":16,"r":29,"v":1511},{"c":17,"r":29,"v":1510},{"c":18,"r":29,"v":1509},{"c":19,"r":29,"v":1508},{"c":20,"r":29,"v":1507},{"c":21,"r":29,"v":1506},{"c":22,"r":29,"v":1505},
{"c":7,"r":30,"v":1515},{"c":8,"r":30,"v":1516},{"c":9,"r":30,"v":1516},{"c":10,"r":30,"v":1516},{"c":11,"r":30,"v":1515},{"c":12,"r":30,"v":1514},{"c":13,"r":30,"v":1513},{"c":14,"r":30,"v":1512},{"c":15,"r":30,"v":1512},{"c":16,"r":30,"v":1511},{"c":17,"r":30,"v":1510},{"c":18,"r":30,"v":1509},{"c":19,"r":30,"v":1508},{"c":20,"r":30,"v":1507},
{"c":8,"r":31,"v":1516},{"c":9,"r":31,"v":1516},{"c":10,"r":31,"v":1515},{"c":11,"r":31,"v":1515},{"c":12,"r":31,"v":1514},{"c":13,"r":31,"v":1513},{"c":14,"r":31,"v":1512},{"c":15,"r":31,"v":1511},{"c":16,"r":31,"v":1510},{"c":17,"r":31,"v":1509},{"c":18,"r":31,"v":1508},
{"c":8,"r":32,"v":1517},{"c":9,"r":32,"v":1516},{"c":10,"r":32,"v":1516},{"c":11,"r":32,"v":1515},{"c":12,"r":32,"v":1515},{"c":13,"r":32,"v":1514},{"c":14,"r":32,"v":1513},{"c":15,"r":32,"v":1512},{"c":16,"r":32,"v":1511},
{"c":9,"r":33,"v":1518},{"c":10,"r":33,"v":1517},{"c":11,"r":33,"v":1517},{"c":12,"r":33,"v":1516},{"c":13,"r":33,"v":1515}],
"velB":[
{"c":22,"r":0,"v":1660},{"c":23,"r":0,"v":1658},{"c":24,"r":0,"v":1658},
{"c":21,"r":1,"v":1660},{"c":22,"r":1,"v":1660},{"c":23,"r":1,"v":1660},{"c":24,"r":1,"v":1660},{"c":25,"r":1,"v":1655},{"c":26,"r":1,"v":1655},
{"c":19,"r":2,"v":1665},{"c":20,"r":2,"v":1662},{"c":21,"r":2,"v":1660},{"c":22,"r":2,"v":1660},{"c":23,"r":2,"v":1658},{"c":24,"r":2,"v":1658},{"c":25,"r":2,"v":1655},{"c":26,"r":2,"v":1655},
{"c":16,"r":3,"v":1645},{"c":17,"r":3,"v":1640},{"c":18,"r":3,"v":1655},{"c":19,"r":3,"v":1668},{"c":20,"r":3,"v":1668},{"c":21,"r":3,"v":1662},{"c":22,"r":3,"v":1660},{"c":23,"r":3,"v":1660},{"c":24,"r":3,"v":1660},{"c":25,"r":3,"v":1658},{"c":26,"r":3,"v":1656},{"c":27,"r":3,"v":1645},{"c":28,"r":3,"v":1628},
{"c":14,"r":4,"v":1672},{"c":15,"r":4,"v":1670},{"c":16,"r":4,"v":1650},{"c":17,"r":4,"v":1648},{"c":18,"r":4,"v":1664},{"c":19,"r":4,"v":1668},{"c":20,"r":4,"v":1660},{"c":21,"r":4,"v":1662},{"c":22,"r":4,"v":1668},{"c":23,"r":4,"v":1670},{"c":24,"r":4,"v":1665},{"c":25,"r":4,"v":1662},{"c":26,"r":4,"v":1660},{"c":27,"r":4,"v":1645},{"c":28,"r":4,"v":1635},{"c":29,"r":4,"v":1625},
{"c":12,"r":5,"v":1675},{"c":13,"r":5,"v":1678},{"c":14,"r":5,"v":1688},{"c":15,"r":5,"v":1672},{"c":16,"r":5,"v":1652},{"c":17,"r":5,"v":1648},{"c":18,"r":5,"v":1665},{"c":19,"r":5,"v":1665},{"c":20,"r":5,"v":1660},{"c":21,"r":5,"v":1658},{"c":22,"r":5,"v":1670},{"c":23,"r":5,"v":1676},{"c":24,"r":5,"v":1672},{"c":25,"r":5,"v":1664},{"c":26,"r":5,"v":1660},{"c":27,"r":5,"v":1652},{"c":28,"r":5,"v":1640},{"c":29,"r":5,"v":1632},{"c":30,"r":5,"v":1618},
{"c":11,"r":6,"v":1655},{"c":12,"r":6,"v":1660},{"c":13,"r":6,"v":1664},{"c":14,"r":6,"v":1668},{"c":15,"r":6,"v":1660},{"c":16,"r":6,"v":1640},{"c":17,"r":6,"v":1638},{"c":18,"r":6,"v":1650},{"c":19,"r":6,"v":1660},{"c":20,"r":6,"v":1652},{"c":21,"r":6,"v":1650},{"c":22,"r":6,"v":1662},{"c":23,"r":6,"v":1672},{"c":24,"r":6,"v":1668},{"c":25,"r":6,"v":1660},{"c":26,"r":6,"v":1655},{"c":27,"r":6,"v":1650},{"c":28,"r":6,"v":1642},{"c":29,"r":6,"v":1638},{"c":30,"r":6,"v":1630},
{"c":10,"r":7,"v":1638},{"c":11,"r":7,"v":1640},{"c":12,"r":7,"v":1648},{"c":13,"r":7,"v":1650},{"c":14,"r":7,"v":1650},{"c":15,"r":7,"v":1645},{"c":16,"r":7,"v":1625},{"c":17,"r":7,"v":1632},{"c":18,"r":7,"v":1625},{"c":19,"r":7,"v":1650},{"c":20,"r":7,"v":1650},{"c":21,"r":7,"v":1642},{"c":22,"r":7,"v":1640},{"c":23,"r":7,"v":1645},{"c":24,"r":7,"v":1655},{"c":25,"r":7,"v":1660},{"c":26,"r":7,"v":1660},{"c":27,"r":7,"v":1652},{"c":28,"r":7,"v":1645},{"c":29,"r":7,"v":1638},{"c":30,"r":7,"v":1636},{"c":31,"r":7,"v":1628},
{"c":8,"r":8,"v":1648},{"c":9,"r":8,"v":1648},{"c":10,"r":8,"v":1646},{"c":11,"r":8,"v":1644},{"c":12,"r":8,"v":1650},{"c":13,"r":8,"v":1650},{"c":14,"r":8,"v":1646},{"c":15,"r":8,"v":1638},{"c":16,"r":8,"v":1618},{"c":17,"r":8,"v":1618},{"c":18,"r":8,"v":1636},{"c":19,"r":8,"v":1650},{"c":20,"r":8,"v":1645},{"c":21,"r":8,"v":1640},{"c":22,"r":8,"v":1630},{"c":23,"r":8,"v":1636},{"c":24,"r":8,"v":1652},{"c":25,"r":8,"v":1652},{"c":26,"r":8,"v":1652},{"c":27,"r":8,"v":1650},{"c":28,"r":8,"v":1645},{"c":29,"r":8,"v":1638},{"c":30,"r":8,"v":1636},{"c":31,"r":8,"v":1622},{"c":32,"r":8,"v":1618},
{"c":8,"r":9,"v":1648},{"c":9,"r":9,"v":1650},{"c":10,"r":9,"v":1650},{"c":11,"r":9,"v":1648},{"c":12,"r":9,"v":1650},{"c":13,"r":9,"v":1650},{"c":14,"r":9,"v":1632},{"c":15,"r":9,"v":1628},{"c":16,"r":9,"v":1608},{"c":17,"r":9,"v":1607},{"c":18,"r":9,"v":1614},{"c":19,"r":9,"v":1620},{"c":20,"r":9,"v":1636},{"c":21,"r":9,"v":1636},{"c":22,"r":9,"v":1637},{"c":23,"r":9,"v":1636},{"c":24,"r":9,"v":1646},{"c":25,"r":9,"v":1648},{"c":26,"r":9,"v":1646},{"c":27,"r":9,"v":1640},{"c":28,"r":9,"v":1636},{"c":29,"r":9,"v":1630},{"c":30,"r":9,"v":1622},{"c":31,"r":9,"v":1615},{"c":32,"r":9,"v":1612},{"c":33,"r":9,"v":1605},
{"c":6,"r":10,"v":1648},{"c":7,"r":10,"v":1636},{"c":8,"r":10,"v":1640},{"c":9,"r":10,"v":1645},{"c":10,"r":10,"v":1648},{"c":11,"r":10,"v":1652},{"c":12,"r":10,"v":1640},{"c":13,"r":10,"v":1636},{"c":14,"r":10,"v":1622},{"c":15,"r":10,"v":1612},{"c":16,"r":10,"v":1605},{"c":17,"r":10,"v":1597},{"c":18,"r":10,"v":1594},{"c":19,"r":10,"v":1605},{"c":20,"r":10,"v":1606},{"c":21,"r":10,"v":1602},{"c":22,"r":10,"v":1610},{"c":23,"r":10,"v":1607},{"c":24,"r":10,"v":1612},{"c":25,"r":10,"v":1622},{"c":26,"r":10,"v":1622},{"c":27,"r":10,"v":1616},{"c":28,"r":10,"v":1608},{"c":29,"r":10,"v":1606},{"c":30,"r":10,"v":1604},{"c":31,"r":10,"v":1604},{"c":32,"r":10,"v":1603},{"c":33,"r":10,"v":1600},{"c":34,"r":10,"v":1590},
{"c":5,"r":11,"v":1648},{"c":6,"r":11,"v":1650},{"c":7,"r":11,"v":1638},{"c":8,"r":11,"v":1640},{"c":9,"r":11,"v":1636},{"c":10,"r":11,"v":1640},{"c":11,"r":11,"v":1648},{"c":12,"r":11,"v":1640},{"c":13,"r":11,"v":1632},{"c":14,"r":11,"v":1610},{"c":15,"r":11,"v":1602},{"c":16,"r":11,"v":1600},{"c":17,"r":11,"v":1590},{"c":18,"r":11,"v":1588},{"c":19,"r":11,"v":1592},{"c":20,"r":11,"v":1598},{"c":21,"r":11,"v":1590},{"c":22,"r":11,"v":1596},{"c":23,"r":11,"v":1602},{"c":24,"r":11,"v":1608},{"c":25,"r":11,"v":1618},{"c":26,"r":11,"v":1620},{"c":27,"r":11,"v":1612},{"c":28,"r":11,"v":1600},{"c":29,"r":11,"v":1598},{"c":30,"r":11,"v":1597},{"c":31,"r":11,"v":1597},{"c":32,"r":11,"v":1596},{"c":33,"r":11,"v":1593},{"c":34,"r":11,"v":1588},
{"c":4,"r":12,"v":1638},{"c":5,"r":12,"v":1636},{"c":6,"r":12,"v":1640},{"c":7,"r":12,"v":1636},{"c":8,"r":12,"v":1634},{"c":9,"r":12,"v":1636},{"c":10,"r":12,"v":1638},{"c":11,"r":12,"v":1640},{"c":12,"r":12,"v":1646},{"c":13,"r":12,"v":1638},{"c":14,"r":12,"v":1634},{"c":15,"r":12,"v":1626},{"c":16,"r":12,"v":1608},{"c":17,"r":12,"v":1598},{"c":18,"r":12,"v":1592},{"c":19,"r":12,"v":1588},{"c":20,"r":12,"v":1584},{"c":21,"r":12,"v":1580},{"c":22,"r":12,"v":1586},{"c":23,"r":12,"v":1590},{"c":24,"r":12,"v":1597},{"c":25,"r":12,"v":1606},{"c":26,"r":12,"v":1610},{"c":27,"r":12,"v":1600},{"c":28,"r":12,"v":1596},{"c":29,"r":12,"v":1592},{"c":30,"r":12,"v":1590},{"c":31,"r":12,"v":1588},{"c":32,"r":12,"v":1584},{"c":33,"r":12,"v":1582},{"c":34,"r":12,"v":1580},
{"c":2,"r":13,"v":1635},{"c":3,"r":13,"v":1636},{"c":4,"r":13,"v":1628},{"c":5,"r":13,"v":1634},{"c":6,"r":13,"v":1636},{"c":7,"r":13,"v":1636},{"c":8,"r":13,"v":1638},{"c":9,"r":13,"v":1636},{"c":10,"r":13,"v":1632},{"c":11,"r":13,"v":1622},{"c":12,"r":13,"v":1620},{"c":13,"r":13,"v":1628},{"c":14,"r":13,"v":1596},{"c":15,"r":13,"v":1590},{"c":16,"r":13,"v":1580},{"c":17,"r":13,"v":1576},{"c":18,"r":13,"v":1574},{"c":19,"r":13,"v":1582},{"c":20,"r":13,"v":1580},{"c":21,"r":13,"v":1580},{"c":22,"r":13,"v":1584},{"c":23,"r":13,"v":1588},{"c":24,"r":13,"v":1592},{"c":25,"r":13,"v":1590},{"c":26,"r":13,"v":1592},{"c":27,"r":13,"v":1590},{"c":28,"r":13,"v":1586},{"c":29,"r":13,"v":1582},{"c":30,"r":13,"v":1578},{"c":31,"r":13,"v":1576},{"c":32,"r":13,"v":1575},{"c":33,"r":13,"v":1570},{"c":34,"r":13,"v":1562},{"c":35,"r":13,"v":1552},
{"c":1,"r":14,"v":1622},{"c":2,"r":14,"v":1630},{"c":3,"r":14,"v":1634},{"c":4,"r":14,"v":1624},{"c":5,"r":14,"v":1618},{"c":6,"r":14,"v":1618},{"c":7,"r":14,"v":1620},{"c":8,"r":14,"v":1620},{"c":9,"r":14,"v":1620},{"c":10,"r":14,"v":1618},{"c":11,"r":14,"v":1616},{"c":12,"r":14,"v":1610},{"c":13,"r":14,"v":1602},{"c":14,"r":14,"v":1594},{"c":15,"r":14,"v":1590},{"c":16,"r":14,"v":1585},{"c":17,"r":14,"v":1575},{"c":18,"r":14,"v":1572},{"c":19,"r":14,"v":1572},{"c":20,"r":14,"v":1574},{"c":21,"r":14,"v":1580},{"c":22,"r":14,"v":1578},{"c":23,"r":14,"v":1580},{"c":24,"r":14,"v":1582},{"c":25,"r":14,"v":1586},{"c":26,"r":14,"v":1586},{"c":27,"r":14,"v":1582},{"c":28,"r":14,"v":1578},{"c":29,"r":14,"v":1574},{"c":30,"r":14,"v":1572},{"c":31,"r":14,"v":1574},{"c":32,"r":14,"v":1576},{"c":33,"r":14,"v":1570},{"c":34,"r":14,"v":1558},{"c":35,"r":14,"v":1544},{"c":36,"r":14,"v":1540},
{"c":0,"r":15,"v":1608},{"c":1,"r":15,"v":1614},{"c":2,"r":15,"v":1626},{"c":3,"r":15,"v":1626},{"c":4,"r":15,"v":1622},{"c":5,"r":15,"v":1616},{"c":6,"r":15,"v":1610},{"c":7,"r":15,"v":1602},{"c":8,"r":15,"v":1602},{"c":9,"r":15,"v":1604},{"c":10,"r":15,"v":1602},{"c":11,"r":15,"v":1602},{"c":12,"r":15,"v":1596},{"c":13,"r":15,"v":1590},{"c":14,"r":15,"v":1585},{"c":15,"r":15,"v":1578},{"c":16,"r":15,"v":1570},{"c":17,"r":15,"v":1568},{"c":18,"r":15,"v":1568},{"c":19,"r":15,"v":1570},{"c":20,"r":15,"v":1572},{"c":21,"r":15,"v":1572},{"c":22,"r":15,"v":1572},{"c":23,"r":15,"v":1575},{"c":24,"r":15,"v":1578},{"c":25,"r":15,"v":1582},{"c":26,"r":15,"v":1580},{"c":27,"r":15,"v":1578},{"c":28,"r":15,"v":1578},{"c":29,"r":15,"v":1576},{"c":30,"r":15,"v":1572},{"c":31,"r":15,"v":1580},{"c":32,"r":15,"v":1578},{"c":33,"r":15,"v":1562},{"c":34,"r":15,"v":1550},{"c":35,"r":15,"v":1544},{"c":36,"r":15,"v":1542},
{"c":0,"r":16,"v":1594},{"c":1,"r":16,"v":1600},{"c":2,"r":16,"v":1608},{"c":3,"r":16,"v":1606},{"c":4,"r":16,"v":1604},{"c":5,"r":16,"v":1596},{"c":6,"r":16,"v":1590},{"c":7,"r":16,"v":1588},{"c":8,"r":16,"v":1586},{"c":9,"r":16,"v":1584},{"c":10,"r":16,"v":1580},{"c":11,"r":16,"v":1574},{"c":12,"r":16,"v":1572},{"c":13,"r":16,"v":1570},{"c":14,"r":16,"v":1568},{"c":15,"r":16,"v":1566},{"c":16,"r":16,"v":1564},{"c":17,"r":16,"v":1564},{"c":18,"r":16,"v":1565},{"c":19,"r":16,"v":1563},{"c":20,"r":16,"v":1563},{"c":21,"r":16,"v":1564},{"c":22,"r":16,"v":1566},{"c":23,"r":16,"v":1568},{"c":24,"r":16,"v":1572},{"c":25,"r":16,"v":1576},{"c":26,"r":16,"v":1576},{"c":27,"r":16,"v":1576},{"c":28,"r":16,"v":1574},{"c":29,"r":16,"v":1572},{"c":30,"r":16,"v":1574},{"c":31,"r":16,"v":1574},{"c":32,"r":16,"v":1572},{"c":33,"r":16,"v":1566},{"c":34,"r":16,"v":1552},{"c":35,"r":16,"v":1546},{"c":36,"r":16,"v":1546},
{"c":1,"r":17,"v":1590},{"c":2,"r":17,"v":1590},{"c":3,"r":17,"v":1587},{"c":4,"r":17,"v":1584},{"c":5,"r":17,"v":1578},{"c":6,"r":17,"v":1576},{"c":7,"r":17,"v":1574},{"c":8,"r":17,"v":1570},{"c":9,"r":17,"v":1570},{"c":10,"r":17,"v":1566},{"c":11,"r":17,"v":1564},{"c":12,"r":17,"v":1558},{"c":13,"r":17,"v":1556},{"c":14,"r":17,"v":1555},{"c":15,"r":17,"v":1553},{"c":16,"r":17,"v":1552},{"c":17,"r":17,"v":1550},{"c":18,"r":17,"v":1550},{"c":19,"r":17,"v":1552},{"c":20,"r":17,"v":1556},{"c":21,"r":17,"v":1558},{"c":22,"r":17,"v":1562},{"c":23,"r":17,"v":1566},{"c":24,"r":17,"v":1572},{"c":25,"r":17,"v":1564},{"c":26,"r":17,"v":1572},{"c":27,"r":17,"v":1566},{"c":28,"r":17,"v":1562},{"c":29,"r":17,"v":1560},{"c":30,"r":17,"v":1558},{"c":31,"r":17,"v":1550},{"c":32,"r":17,"v":1545},{"c":33,"r":17,"v":1542},{"c":34,"r":17,"v":1540},{"c":35,"r":17,"v":1540},{"c":36,"r":17,"v":1544},
{"c":2,"r":18,"v":1582},{"c":3,"r":18,"v":1580},{"c":4,"r":18,"v":1578},{"c":5,"r":18,"v":1574},{"c":6,"r":18,"v":1570},{"c":7,"r":18,"v":1568},{"c":8,"r":18,"v":1568},{"c":9,"r":18,"v":1566},{"c":10,"r":18,"v":1563},{"c":11,"r":18,"v":1562},{"c":12,"r":18,"v":1553},{"c":13,"r":18,"v":1550},{"c":14,"r":18,"v":1548},{"c":15,"r":18,"v":1546},{"c":16,"r":18,"v":1545},{"c":17,"r":18,"v":1543},{"c":18,"r":18,"v":1545},{"c":19,"r":18,"v":1548},{"c":20,"r":18,"v":1550},{"c":21,"r":18,"v":1552},{"c":22,"r":18,"v":1555},{"c":23,"r":18,"v":1558},{"c":24,"r":18,"v":1561},{"c":25,"r":18,"v":1565},{"c":26,"r":18,"v":1566},{"c":27,"r":18,"v":1558},{"c":28,"r":18,"v":1552},{"c":29,"r":18,"v":1556},{"c":30,"r":18,"v":1545},{"c":31,"r":18,"v":1540},{"c":32,"r":18,"v":1530},{"c":33,"r":18,"v":1526},{"c":34,"r":18,"v":1526},{"c":35,"r":18,"v":1530},
{"c":2,"r":19,"v":1574},{"c":3,"r":19,"v":1572},{"c":4,"r":19,"v":1566},{"c":5,"r":19,"v":1564},{"c":6,"r":19,"v":1562},{"c":7,"r":19,"v":1560},{"c":8,"r":19,"v":1566},{"c":9,"r":19,"v":1566},{"c":10,"r":19,"v":1566},{"c":11,"r":19,"v":1562},{"c":12,"r":19,"v":1555},{"c":13,"r":19,"v":1546},{"c":14,"r":19,"v":1544},{"c":15,"r":19,"v":1543},{"c":16,"r":19,"v":1540},{"c":17,"r":19,"v":1535},{"c":18,"r":19,"v":1535},{"c":19,"r":19,"v":1545},{"c":20,"r":19,"v":1548},{"c":21,"r":19,"v":1550},{"c":22,"r":19,"v":1552},{"c":23,"r":19,"v":1554},{"c":24,"r":19,"v":1556},{"c":25,"r":19,"v":1552},{"c":26,"r":19,"v":1546},{"c":27,"r":19,"v":1535},{"c":28,"r":19,"v":1522},{"c":29,"r":19,"v":1520},{"c":30,"r":19,"v":1524},{"c":31,"r":19,"v":1522},{"c":32,"r":19,"v":1516},{"c":33,"r":19,"v":1512},{"c":34,"r":19,"v":1510},
{"c":2,"r":20,"v":1566},{"c":3,"r":20,"v":1558},{"c":4,"r":20,"v":1554},{"c":5,"r":20,"v":1552},{"c":6,"r":20,"v":1553},{"c":7,"r":20,"v":1554},{"c":8,"r":20,"v":1554},{"c":9,"r":20,"v":1552},{"c":10,"r":20,"v":1548},{"c":11,"r":20,"v":1546},{"c":12,"r":20,"v":1544},{"c":13,"r":20,"v":1542},{"c":14,"r":20,"v":1542},{"c":15,"r":20,"v":1540},{"c":16,"r":20,"v":1534},{"c":17,"r":20,"v":1530},{"c":18,"r":20,"v":1532},{"c":19,"r":20,"v":1540},{"c":20,"r":20,"v":1544},{"c":21,"r":20,"v":1548},{"c":22,"r":20,"v":1548},{"c":23,"r":20,"v":1546},{"c":24,"r":20,"v":1548},{"c":25,"r":20,"v":1544},{"c":26,"r":20,"v":1540},{"c":27,"r":20,"v":1525},{"c":28,"r":20,"v":1522},{"c":29,"r":20,"v":1524},{"c":30,"r":20,"v":1528},{"c":31,"r":20,"v":1520},{"c":32,"r":20,"v":1514},{"c":33,"r":20,"v":1510},{"c":34,"r":20,"v":1510},
{"c":3,"r":21,"v":1548},{"c":4,"r":21,"v":1550},{"c":5,"r":21,"v":1552},{"c":6,"r":21,"v":1550},{"c":7,"r":21,"v":1550},{"c":8,"r":21,"v":1548},{"c":9,"r":21,"v":1546},{"c":10,"r":21,"v":1548},{"c":11,"r":21,"v":1545},{"c":12,"r":21,"v":1540},{"c":13,"r":21,"v":1536},{"c":14,"r":21,"v":1532},{"c":15,"r":21,"v":1524},{"c":16,"r":21,"v":1518},{"c":17,"r":21,"v":1518},{"c":18,"r":21,"v":1525},{"c":19,"r":21,"v":1532},{"c":20,"r":21,"v":1536},{"c":21,"r":21,"v":1540},{"c":22,"r":21,"v":1544},{"c":23,"r":21,"v":1545},{"c":24,"r":21,"v":1546},{"c":25,"r":21,"v":1540},{"c":26,"r":21,"v":1538},{"c":27,"r":21,"v":1536},{"c":28,"r":21,"v":1535},{"c":29,"r":21,"v":1553},{"c":30,"r":21,"v":1553},{"c":31,"r":21,"v":1540},{"c":32,"r":21,"v":1536},
{"c":3,"r":22,"v":1540},{"c":4,"r":22,"v":1540},{"c":5,"r":22,"v":1542},{"c":6,"r":22,"v":1544},{"c":7,"r":22,"v":1544},{"c":8,"r":22,"v":1546},{"c":9,"r":22,"v":1545},{"c":10,"r":22,"v":1548},{"c":11,"r":22,"v":1542},{"c":12,"r":22,"v":1538},{"c":13,"r":22,"v":1530},{"c":14,"r":22,"v":1518},{"c":15,"r":22,"v":1515},{"c":16,"r":22,"v":1512},{"c":17,"r":22,"v":1514},{"c":18,"r":22,"v":1520},{"c":19,"r":22,"v":1530},{"c":20,"r":22,"v":1546},{"c":21,"r":22,"v":1540},{"c":22,"r":22,"v":1536},{"c":23,"r":22,"v":1520},{"c":24,"r":22,"v":1515},{"c":25,"r":22,"v":1530},{"c":26,"r":22,"v":1532},{"c":27,"r":22,"v":1540},{"c":28,"r":22,"v":1552},{"c":29,"r":22,"v":1570},{"c":30,"r":22,"v":1572},{"c":31,"r":22,"v":1552},
{"c":4,"r":23,"v":1536},{"c":5,"r":23,"v":1534},{"c":6,"r":23,"v":1534},{"c":7,"r":23,"v":1535},{"c":8,"r":23,"v":1540},{"c":9,"r":23,"v":1548},{"c":10,"r":23,"v":1552},{"c":11,"r":23,"v":1566},{"c":12,"r":23,"v":1552},{"c":13,"r":23,"v":1535},{"c":14,"r":23,"v":1520},{"c":15,"r":23,"v":1512},{"c":16,"r":23,"v":1510},{"c":17,"r":23,"v":1514},{"c":18,"r":23,"v":1525},{"c":19,"r":23,"v":1530},{"c":20,"r":23,"v":1528},{"c":21,"r":23,"v":1530},{"c":22,"r":23,"v":1540},{"c":23,"r":23,"v":1535},{"c":24,"r":23,"v":1538},{"c":25,"r":23,"v":1545},{"c":26,"r":23,"v":1548},{"c":27,"r":23,"v":1545},{"c":28,"r":23,"v":1545},{"c":29,"r":23,"v":1552},
{"c":5,"r":24,"v":1532},{"c":6,"r":24,"v":1532},{"c":7,"r":24,"v":1532},{"c":8,"r":24,"v":1534},{"c":9,"r":24,"v":1540},{"c":10,"r":24,"v":1546},{"c":11,"r":24,"v":1564},{"c":12,"r":24,"v":1555},{"c":13,"r":24,"v":1536},{"c":14,"r":24,"v":1525},{"c":15,"r":24,"v":1518},{"c":16,"r":24,"v":1512},{"c":17,"r":24,"v":1510},{"c":18,"r":24,"v":1512},{"c":19,"r":24,"v":1520},{"c":20,"r":24,"v":1520},{"c":21,"r":24,"v":1518},{"c":22,"r":24,"v":1522},{"c":23,"r":24,"v":1535},{"c":24,"r":24,"v":1566},{"c":25,"r":24,"v":1572},{"c":26,"r":24,"v":1540},{"c":27,"r":24,"v":1510},{"c":28,"r":24,"v":1540},
{"c":5,"r":25,"v":1530},{"c":6,"r":25,"v":1528},{"c":7,"r":25,"v":1526},{"c":8,"r":25,"v":1530},{"c":9,"r":25,"v":1532},{"c":10,"r":25,"v":1540},{"c":11,"r":25,"v":1548},{"c":12,"r":25,"v":1552},{"c":13,"r":25,"v":1552},{"c":14,"r":25,"v":1548},{"c":15,"r":25,"v":1552},{"c":16,"r":25,"v":1545},{"c":17,"r":25,"v":1530},{"c":18,"r":25,"v":1520},{"c":19,"r":25,"v":1518},{"c":20,"r":25,"v":1516},{"c":21,"r":25,"v":1514},{"c":22,"r":25,"v":1516},{"c":23,"r":25,"v":1525},{"c":24,"r":25,"v":1578},{"c":25,"r":25,"v":1610},{"c":26,"r":25,"v":1578},{"c":27,"r":25,"v":1552},
{"c":6,"r":26,"v":1530},{"c":7,"r":26,"v":1525},{"c":8,"r":26,"v":1520},{"c":9,"r":26,"v":1518},{"c":10,"r":26,"v":1522},{"c":11,"r":26,"v":1536},{"c":12,"r":26,"v":1545},{"c":13,"r":26,"v":1550},{"c":14,"r":26,"v":1552},{"c":15,"r":26,"v":1556},{"c":16,"r":26,"v":1548},{"c":17,"r":26,"v":1540},{"c":18,"r":26,"v":1535},{"c":19,"r":26,"v":1530},{"c":20,"r":26,"v":1522},{"c":21,"r":26,"v":1518},{"c":22,"r":26,"v":1516},{"c":23,"r":26,"v":1540},{"c":24,"r":26,"v":1600},{"c":25,"r":26,"v":1640},
{"c":6,"r":27,"v":1532},{"c":7,"r":27,"v":1526},{"c":8,"r":27,"v":1522},{"c":9,"r":27,"v":1514},{"c":10,"r":27,"v":1512},{"c":11,"r":27,"v":1516},{"c":12,"r":27,"v":1528},{"c":13,"r":27,"v":1538},{"c":14,"r":27,"v":1544},{"c":15,"r":27,"v":1548},{"c":16,"r":27,"v":1552},{"c":17,"r":27,"v":1556},{"c":18,"r":27,"v":1552},{"c":19,"r":27,"v":1556},{"c":20,"r":27,"v":1548},{"c":21,"r":27,"v":1536},{"c":22,"r":27,"v":1552},{"c":23,"r":27,"v":1585},
{"c":7,"r":28,"v":1520},{"c":8,"r":28,"v":1512},{"c":9,"r":28,"v":1510},{"c":10,"r":28,"v":1510},{"c":11,"r":28,"v":1512},{"c":12,"r":28,"v":1518},{"c":13,"r":28,"v":1516},{"c":14,"r":28,"v":1515},{"c":15,"r":28,"v":1518},{"c":16,"r":28,"v":1522},{"c":17,"r":28,"v":1528},{"c":18,"r":28,"v":1548},{"c":19,"r":28,"v":1553},{"c":20,"r":28,"v":1562},{"c":21,"r":28,"v":1566},
{"c":7,"r":29,"v":1510},{"c":8,"r":29,"v":1508},{"c":9,"r":29,"v":1508},{"c":10,"r":29,"v":1510},{"c":11,"r":29,"v":1510},{"c":12,"r":29,"v":1512},{"c":13,"r":29,"v":1513},{"c":14,"r":29,"v":1514},{"c":15,"r":29,"v":1516},{"c":16,"r":29,"v":1515},{"c":17,"r":29,"v":1520},{"c":18,"r":29,"v":1530},{"c":19,"r":29,"v":1538},{"c":20,"r":29,"v":1548},
{"c":8,"r":30,"v":1508},{"c":9,"r":30,"v":1508},{"c":10,"r":30,"v":1508},{"c":11,"r":30,"v":1510},{"c":12,"r":30,"v":1510},{"c":13,"r":30,"v":1510},{"c":14,"r":30,"v":1508},{"c":15,"r":30,"v":1508},{"c":16,"r":30,"v":1508},{"c":17,"r":30,"v":1510},
{"c":9,"r":31,"v":1515},{"c":10,"r":31,"v":1514},{"c":11,"r":31,"v":1514},{"c":12,"r":31,"v":1510},{"c":13,"r":31,"v":1508},{"c":14,"r":31,"v":1506},{"c":15,"r":31,"v":1506},
{"c":9,"r":32,"v":1516},{"c":10,"r":32,"v":1516},{"c":11,"r":32,"v":1514},{"c":12,"r":32,"v":1514},{"c":13,"r":32,"v":1510}]
},
"vconcat":[
{"width":337,"height":281,"view":{"stroke":"#555","strokeWidth":1.5},
"encoding":{"x":{"field":"c","type":"quantitative","scale":{"domain":[-5.1,42],"nice":false,"zero":false},"axis":{"values":[1.13,16.09,30.99],"labelExpr":"datum.value<5?'29ˢ':datum.value<20?'28ˢ':'2ʰ15ᵐ27ˢ'","title":"R.A. (2000.0)","labelPadding":14,"titlePadding":4}},"y":{"field":"r","type":"quantitative","scale":{"domain":[38,-5.05],"nice":false,"zero":false},"axis":{"values":[5,15,25,35],"labelExpr":"datum.value==5?'20″':datum.value==15?'10″':datum.value==25?'6° 0′':'5°59′50″'","title":"Dec. (2000.0)","labelPadding":3,"titleX":-70,"titleY":148}}},
"layer":[
{"data":{"name":"velA"},"mark":{"type":"rect","width":7.7,"height":7.1},"encoding":{"color":{"field":"v","type":"quantitative","scale":{"domain":[1461,1478,1499,1507,1520,1532,1543,1554,1564,1578,1588,1599,1611,1621,1637,1646,1661,1677,1690],"range":["#000000","#000040","#000080","#0000a0","#0000ff","#0060ff","#00b0ff","#00ffff","#00ff90","#00ff00","#80ff00","#ffff00","#ffc000","#ff9000","#ff0000","#ff0080","#ff00ff","#ffb0ff","#ffffff"],"clamp":true},"legend":{"orient":"none","legendX":338,"legendY":0,"direction":"vertical","title":null,"gradientLength":281,"gradientThickness":22,"gradientStrokeColor":"#666","gradientStrokeWidth":1,"labelOpacity":0,"labelFontSize":1,"padding":0}}}},
{"data":{"name":"ticks"},"mark":{"type":"rule","color":"#555","strokeWidth":1},"encoding":{"x2":{"field":"c2"},"y2":{"field":"r2"}}},
{"data":{"name":"axis"},"mark":{"type":"line","color":"black","strokeWidth":1.6,"strokeDash":[2,8]}},
{"data":{"name":"contourA"},"mark":{"type":"line","color":"black","strokeWidth":1.8},"encoding":{"order":{"field":"i"}}},
{"data":{"name":"cross"},"mark":{"type":"point","shape":"M-1,0H1M0,-1V1","size":40,"color":"black","filled":false,"strokeWidth":1}},
{"data":{"name":"unit"},"mark":{"type":"text","align":"right"},"encoding":{"text":{"field":"t"}}},
{"data":{"name":"cbar"},"mark":{"type":"text","align":"right","fontSize":13},"encoding":{"text":{"field":"t"}}},
{"data":{"name":"notes"},"mark":{"type":"text","align":"left"},"encoding":{"text":{"field":"t"}}},
{"data":{"values":[{"c":-2.97,"r":-1.6,"t":"a)"}]},"mark":{"type":"text","align":"left"},"encoding":{"text":{"field":"t"}}}
]},
{"width":337,"height":281,"view":{"stroke":"#555","strokeWidth":1.5},
"encoding":{"x":{"field":"c","type":"quantitative","scale":{"domain":[-5.1,42],"nice":false,"zero":false},"axis":{"values":[1.13,16.09,30.99],"labelExpr":"datum.value<5?'29ˢ':datum.value<20?'28ˢ':'2ʰ15ᵐ27ˢ'","title":"R.A. (2000.0)","labelPadding":14,"titlePadding":4}},"y":{"field":"r","type":"quantitative","scale":{"domain":[38,-5.05],"nice":false,"zero":false},"axis":{"values":[5,15,25,35],"labelExpr":"datum.value==5?'20″':datum.value==15?'10″':datum.value==25?'6° 0′':'5°59′50″'","title":"Dec. (2000.0)","labelPadding":3,"titleX":-70,"titleY":148}}},
"layer":[
{"data":{"name":"velB"},"mark":{"type":"rect","width":7.7,"height":7.1},"encoding":{"color":{"field":"v","type":"quantitative","scale":{"domain":[1461,1478,1499,1507,1520,1532,1543,1554,1564,1578,1588,1599,1611,1621,1637,1646,1661,1677,1690],"range":["#000000","#000040","#000080","#0000a0","#0000ff","#0060ff","#00b0ff","#00ffff","#00ff90","#00ff00","#80ff00","#ffff00","#ffc000","#ff9000","#ff0000","#ff0080","#ff00ff","#ffb0ff","#ffffff"],"clamp":true},"legend":{"orient":"none","legendX":338,"legendY":0,"direction":"vertical","title":null,"gradientLength":281,"gradientThickness":22,"gradientStrokeColor":"#666","gradientStrokeWidth":1,"labelOpacity":0,"labelFontSize":1,"padding":0}}}},
{"data":{"name":"ticks"},"mark":{"type":"rule","color":"#555","strokeWidth":1},"encoding":{"x2":{"field":"c2"},"y2":{"field":"r2"}}},
{"data":{"name":"axis"},"mark":{"type":"line","color":"black","strokeWidth":1.6,"strokeDash":[2,8]}},
{"data":{"name":"contourB"},"mark":{"type":"line","color":"black","strokeWidth":1.8},"encoding":{"detail":{"field":"g"},"order":{"field":"i"}}},
{"data":{"name":"cross"},"mark":{"type":"point","shape":"M-1,0H1M0,-1V1","size":40,"color":"black","filled":false,"strokeWidth":1}},
{"data":{"name":"unit"},"mark":{"type":"text","align":"right"},"encoding":{"text":{"field":"t"}}},
{"data":{"name":"cbar"},"mark":{"type":"text","align":"right","fontSize":13},"encoding":{"text":{"field":"t"}}},
{"data":{"name":"notes"},"mark":{"type":"text","align":"left"},"encoding":{"text":{"field":"t"}}},
{"data":{"values":[{"c":-2.97,"r":-1.6,"t":"b)"}]},"mark":{"type":"text","align":"left"},"encoding":{"text":{"field":"t"}}}
]}
]}
